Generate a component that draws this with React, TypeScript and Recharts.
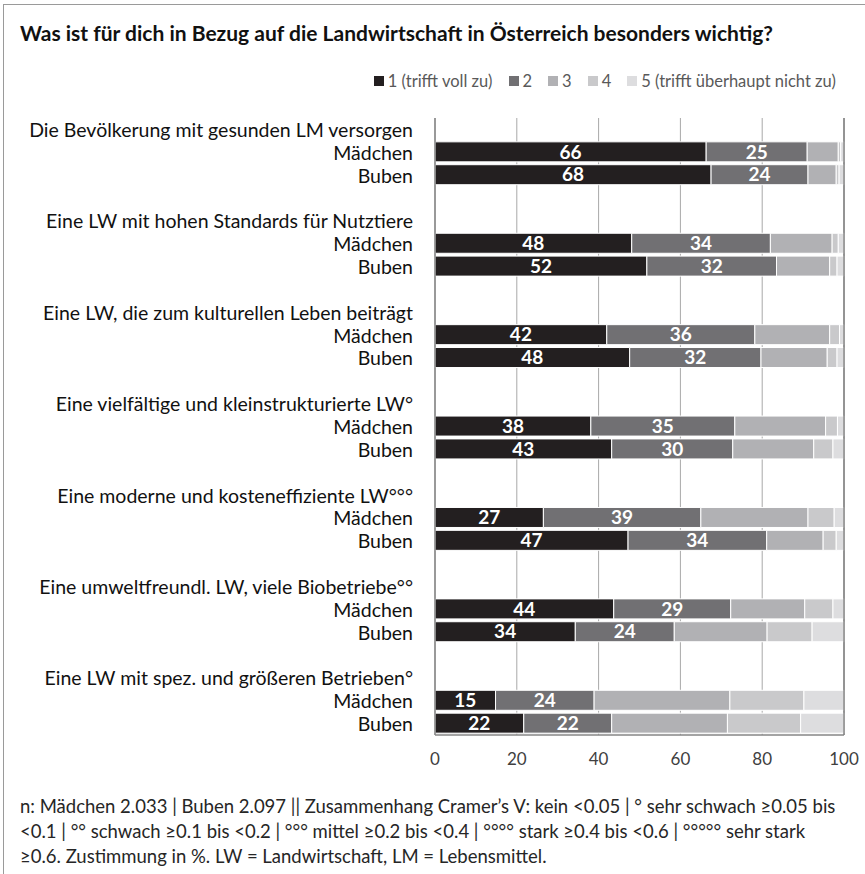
import React from "react";
import {
  BarChart,
  Bar,
  XAxis,
  YAxis,
  CartesianGrid,
  ReferenceLine,
  LabelList,
} from "recharts";

const topics = [
  "Die Bevölkerung mit gesunden LM versorgen",
  "Eine LW mit hohen Standards für Nutztiere",
  "Eine LW, die zum kulturellen Leben beiträgt",
  "Eine vielfältige und kleinstrukturierte LW°",
  "Eine moderne und kosteneffiziente LW°°°",
  "Eine umweltfreundl. LW, viele Biobetriebe°°",
  "Eine LW mit spez. und größeren Betrieben°",
];

const groups = ["Mädchen", "Buben"];

const seriesNames = ["1 (trifft voll zu)", "2", "3", "4", "5 (trifft überhaupt nicht zu)"];
const seriesColors = ["#231f20", "#717073", "#b1b1b4", "#c9c9cb", "#dddddf"];

// Zustimmung in %, je Thema: [1, 2, 3, 4, 5]
const maedchen = [
  [66.3, 24.7, 7.6, 0.6, 0.8],
  [48.1, 33.9, 15.1, 1.5, 1.4],
  [42.0, 36.2, 18.3, 2.4, 1.1],
  [38.1, 35.2, 22.2, 2.9, 1.6],
  [26.5, 38.5, 26.2, 6.4, 2.4],
  [43.7, 28.6, 18.1, 6.9, 2.7],
  [14.8, 24.1, 33.2, 18.1, 9.8],
];

const buben = [
  [67.5, 23.7, 6.9, 0.7, 1.2],
  [51.8, 31.7, 13.0, 1.8, 1.7],
  [47.6, 32.1, 16.2, 2.4, 1.7],
  [43.2, 29.6, 19.8, 4.7, 2.7],
  [47.2, 33.9, 13.8, 3.2, 1.9],
  [34.3, 24.2, 22.7, 11.0, 7.8],
  [21.7, 21.5, 28.3, 17.9, 10.6],
];

const xTicks = [0, 20, 40, 60, 80, 100];

const footnote = [
  "n: Mädchen 2.033 | Buben 2.097 || Zusammenhang Cramer’s V: kein <0.05 | ° sehr schwach ≥0.05 bis",
  "<0.1 | °° schwach ≥0.1 bis <0.2 | °°° mittel ≥0.2 bis <0.4 | °°°° stark ≥0.4 bis <0.6 | °°°°° sehr stark",
  "≥0.6. Zustimmung in %. LW = Landwirtschaft, LM = Lebensmittel.",
];

const FONT = "Lato, 'Open Sans', sans-serif";

type Row = { key: string; label: string; [k: string]: string | number };

const rows: Row[] = [];
topics.forEach((t, i) => {
  if (i > 0) rows.push({ key: `gap${i}`, label: "" });
  rows.push({ key: `head${i}`, label: t });
  [maedchen[i], buben[i]].forEach((vals, g) => {
    const r: Row = { key: `${g}-${i}`, label: groups[g] };
    vals.forEach((v, s) => (r[`s${s}`] = v));
    rows.push(r);
  });
});

const labelOf: Record<string, string> = {};
rows.forEach((r) => (labelOf[r.key] = r.label));

const CategoryTick = (props: any) => {
  const { x, y, payload } = props;
  return (
    <text
      x={x}
      y={y}
      textAnchor="end"
      dominantBaseline="central"
      fill="#111"
      fontSize={19.5}
      fontFamily={FONT}
    >
      {labelOf[payload.value]}
    </text>
  );
};

export default function App() {
  return (
    <div
      style={{
        position: "absolute",
        left: 0,
        top: 0,
        width: 865,
        height: 874,
        overflow: "hidden",
        background: "#fff",
        fontFamily: FONT,
      }}
    >
      <div
        style={{
          position: "absolute",
          left: 3,
          top: 4,
          width: 900,
          height: 900,
          border: "1px solid #9a9a9a",
        }}
      />
      <div
        style={{
          position: "absolute",
          left: 20,
          top: 20,
          fontSize: 21,
          fontWeight: 700,
          color: "#111",
          whiteSpace: "nowrap",
        }}
      >
        Was ist für dich in Bezug auf die Landwirtschaft in Österreich besonders wichtig?
      </div>

      {/* Legende */}
      <div
        style={{
          position: "absolute",
          top: 71,
          right: 29,
          display: "flex",
          gap: 16,
          fontSize: 16.5,
          color: "#595959",
          whiteSpace: "nowrap",
        }}
      >
        {seriesNames.map((n, i) => (
          <div key={n} style={{ display: "flex", alignItems: "center", gap: 4 }}>
            <span style={{ width: 10, height: 10, background: seriesColors[i], display: "inline-block" }} />
            <span>{n}</span>
          </div>
        ))}
      </div>

      <div style={{ position: "absolute", left: 0, top: 0 }}>
        <BarChart
          width={865}
          height={874}
          data={rows}
          layout="vertical"
          margin={{ top: 118, right: 21, left: 0, bottom: 109 }}
          barSize={20}
        >
          <CartesianGrid horizontal={false} stroke="#a8a8a8" />
          <XAxis
            type="number"
            domain={[0, 100]}
            ticks={xTicks}
            axisLine={{ stroke: "#868686", strokeWidth: 1.5 }}
            tickLine={false}
            tickMargin={12}
            height={30}
            tick={{ fill: "#404040", fontSize: 17, fontFamily: FONT }}
          />
          <YAxis
            type="category"
            dataKey="key"
            width={435}
            axisLine={{ stroke: "#868686", strokeWidth: 1.5 }}
            tickLine={false}
            tickMargin={16}
            interval={0}
            tick={<CategoryTick />}
          />
          {seriesNames.map((n, s) => (
            <Bar
              key={n}
              dataKey={`s${s}`}
              name={n}
              stackId="a"
              fill={seriesColors[s]}
              stroke="#fff"
              strokeWidth={1}
              isAnimationActive={false}
            >
              {s < 2 && (
                <LabelList
                  dataKey={`s${s}`}
                  position="center"
                  fill="#fff"
                  fontSize={19}
                  fontWeight={700}
                  fontFamily={FONT}
                  formatter={(v: any) => (typeof v === "number" ? Math.round(v) : "")}
                />
              )}
            </Bar>
          ))}
          <ReferenceLine x={100} stroke="#868686" strokeWidth={1.5} />
        </BarChart>
      </div>

      <div
        style={{
          position: "absolute",
          left: 20,
          top: 794,
          fontSize: 18.5,
          lineHeight: "25px",
          color: "#262626",
          whiteSpace: "nowrap",
        }}
      >
        {footnote.map((line) => (
          <div key={line}>{line}</div>
        ))}
      </div>
    </div>
  );
}
